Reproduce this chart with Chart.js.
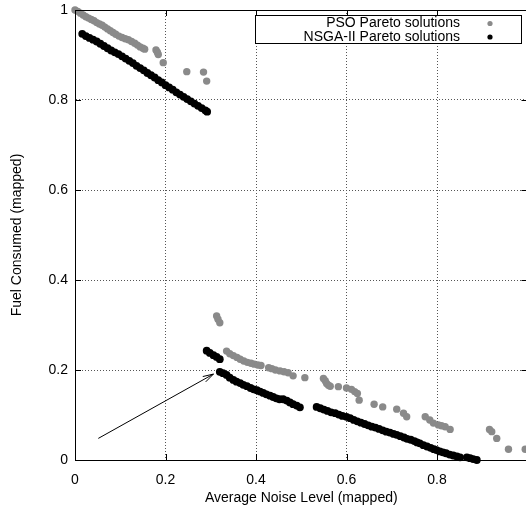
<!DOCTYPE html>
<html>
<head>
<meta charset="utf-8">
<script src="https://cdn.jsdelivr.net/npm/chart.js@4"></script>
<style>
html, body { margin: 0; padding: 0; overflow: hidden; background: #fff; }
#wrap { width: 534px; height: 509px; }
</style>
</head>
<body>
<div id="wrap"><canvas id="paretoChart" width="534" height="509"></canvas></div>
<script>
// PSO Pareto front (grey dots)
const psoNoise = [0.000, 0.006, 0.012, 0.018, 0.024, 0.030, 0.036, 0.042, 0.048, 0.054, 0.060, 0.066, 0.072, 0.078, 0.084, 0.090,
    0.097, 0.104, 0.111, 0.118, 0.125, 0.132, 0.138, 0.144, 0.150, 0.154,
    0.179, 0.182, 0.184, 0.195, 0.247, 0.284, 0.291,
    0.313, 0.316, 0.320,
    0.335, 0.342, 0.350, 0.358, 0.365, 0.373, 0.381, 0.389, 0.396, 0.404, 0.411,
    0.428, 0.435, 0.443, 0.453, 0.462, 0.471, 0.482, 0.508,
    0.549, 0.553, 0.556, 0.560, 0.564, 0.582, 0.600, 0.611, 0.618, 0.624, 0.628, 0.661, 0.680, 0.711,
    0.726, 0.733, 0.774, 0.784, 0.792, 0.803, 0.810, 0.818, 0.829, 0.916, 0.921, 0.932, 0.958, 0.995];
const psoFuel = [1.000, 0.997, 0.993, 0.989, 0.985, 0.982, 0.979, 0.976, 0.972, 0.969, 0.966, 0.962, 0.958, 0.954, 0.950, 0.946,
    0.942, 0.939, 0.936, 0.934, 0.930, 0.926, 0.922, 0.918, 0.915, 0.913,
    0.911, 0.906, 0.901, 0.883, 0.863, 0.862, 0.842,
    0.320, 0.313, 0.305,
    0.242, 0.236, 0.232, 0.228, 0.224, 0.220, 0.217, 0.215, 0.213, 0.211, 0.210,
    0.205, 0.203, 0.200, 0.198, 0.196, 0.194, 0.187, 0.183,
    0.181, 0.176, 0.170, 0.166, 0.164, 0.163, 0.160, 0.157, 0.152, 0.148, 0.133, 0.124, 0.118, 0.113,
    0.104, 0.096, 0.096, 0.089, 0.082, 0.078, 0.076, 0.074, 0.068, 0.068, 0.063, 0.048, 0.024, 0.024];

// NSGA-II Pareto front (black dots)
const nsgaNoise = [0.016, 0.024, 0.032, 0.040, 0.048, 0.056, 0.064, 0.072, 0.080, 0.088, 0.096, 0.104, 0.112, 0.120, 0.128, 0.136,
    0.144, 0.152, 0.160, 0.168, 0.176, 0.184, 0.192, 0.200, 0.208, 0.216, 0.224, 0.232, 0.240, 0.248, 0.256, 0.264,
    0.272, 0.280, 0.288, 0.292,
    0.291, 0.298, 0.306, 0.313, 0.320,
    0.320, 0.327, 0.335, 0.342, 0.350, 0.357, 0.365, 0.372, 0.380, 0.388, 0.395, 0.402, 0.409, 0.416, 0.423, 0.431,
    0.438, 0.445, 0.452, 0.460, 0.468, 0.475, 0.482, 0.490, 0.497,
    0.534, 0.542, 0.550, 0.558, 0.566, 0.575, 0.583, 0.591, 0.600, 0.608, 0.616, 0.624, 0.632, 0.640, 0.648, 0.656,
    0.664, 0.672, 0.680, 0.688, 0.696, 0.704, 0.711, 0.719, 0.727, 0.734, 0.742, 0.750, 0.756, 0.762, 0.770, 0.778,
    0.786, 0.793, 0.799, 0.806, 0.813, 0.820, 0.828, 0.836, 0.844, 0.851,
    0.866, 0.873, 0.880, 0.888];
const nsgaFuel = [0.947, 0.942, 0.938, 0.934, 0.930, 0.925, 0.920, 0.915, 0.910, 0.906, 0.902, 0.897, 0.892, 0.887, 0.882, 0.876,
    0.871, 0.866, 0.860, 0.855, 0.850, 0.844, 0.839, 0.833, 0.828, 0.823, 0.817, 0.812, 0.807, 0.802, 0.797, 0.792,
    0.787, 0.782, 0.777, 0.774,
    0.243, 0.238, 0.233, 0.229, 0.224,
    0.196, 0.193, 0.189, 0.183, 0.178, 0.174, 0.171, 0.167, 0.164, 0.160, 0.157, 0.155, 0.152, 0.149, 0.146, 0.143,
    0.140, 0.137, 0.135, 0.135, 0.132, 0.128, 0.124, 0.121, 0.117,
    0.118, 0.115, 0.112, 0.109, 0.106, 0.104, 0.101, 0.098, 0.096, 0.093, 0.089, 0.086, 0.083, 0.080, 0.077, 0.074,
    0.072, 0.069, 0.066, 0.063, 0.061, 0.058, 0.056, 0.053, 0.050, 0.047, 0.045, 0.042, 0.039, 0.037, 0.033, 0.030,
    0.027, 0.024, 0.022, 0.019, 0.017, 0.015, 0.012, 0.010, 0.008, 0.006,
    0.006, 0.004, 0.002, 0.000];

const tickValues = [0, 0.2, 0.4, 0.6, 0.8, 1];
const seriesLabels = ['PSO Pareto solutions', 'NSGA-II Pareto solutions'];
const seriesColors = ['#8a8a8a', '#000000'];
const axisTitles = ['Average Noise Level (mapped)', 'Fuel Consumed (mapped)'];
// annotation arrow, in data units (tail, head)
const arrowFrom = [0.0515, 0.048];
const arrowTo = [0.306, 0.191];

document.addEventListener('DOMContentLoaded', () => {
    const font = { family: '"Liberation Sans", Arial, Helvetica, sans-serif', size: 14 };
    const toPoints = (xs, ys) => xs.map((x, i) => ({ x: x, y: ys[i] }));

    // gnuplot look: closed frame, inward ticks, boxed key, arrow
    const gnuplotExtras = {
        id: 'gnuplotExtras',
        afterDraw(chart) {
            const c = chart.ctx;
            const { left, right, top, bottom } = chart.chartArea;
            const sx = chart.scales.x, sy = chart.scales.y;
            c.save();
            c.strokeStyle = '#000';
            c.lineWidth = 1;
            c.setLineDash([]);

            c.beginPath();
            c.moveTo(left, Math.round(top) + 0.5);
            c.lineTo(right, Math.round(top) + 0.5);
            c.moveTo(Math.round(right) + 0.5, top);
            c.lineTo(Math.round(right) + 0.5, bottom);
            tickValues.forEach(v => {
                const px = Math.round(sx.getPixelForValue(v)) + 0.5;
                c.moveTo(px, bottom); c.lineTo(px, bottom - 6);
                c.moveTo(px, top); c.lineTo(px, top + 6);
                const py = Math.round(sy.getPixelForValue(v)) + 0.5;
                c.moveTo(left, py); c.lineTo(left + 6, py);
                c.moveTo(right, py); c.lineTo(right - 6, py);
            });
            c.stroke();

            // arrow
            const x0 = sx.getPixelForValue(arrowFrom[0]), y0 = sy.getPixelForValue(arrowFrom[1]);
            const x1 = sx.getPixelForValue(arrowTo[0]), y1 = sy.getPixelForValue(arrowTo[1]);
            const ang = Math.atan2(y1 - y0, x1 - x0);
            const head = 11, spread = 16 * Math.PI / 180;
            c.beginPath();
            c.moveTo(x0, y0); c.lineTo(x1, y1);
            c.moveTo(x1 - head * Math.cos(ang - spread), y1 - head * Math.sin(ang - spread));
            c.lineTo(x1, y1);
            c.lineTo(x1 - head * Math.cos(ang + spread), y1 - head * Math.sin(ang + spread));
            c.stroke();

            // key box
            const boxL = sx.getPixelForValue(0.398), boxR = right - 6.5;
            const boxT = top + 5, boxB = top + 33;
            c.fillStyle = '#fff';
            c.fillRect(boxL, boxT, boxR - boxL, boxB - boxT);
            c.strokeRect(Math.round(boxL) + 0.5, Math.round(boxT) + 0.5, Math.round(boxR - boxL), Math.round(boxB - boxT));
            c.font = font.size + 'px ' + font.family;
            c.textAlign = 'right';
            c.textBaseline = 'middle';
            seriesLabels.forEach((label, i) => {
                const ty = boxT + 8.5 + i * 13.5;
                c.fillStyle = '#000';
                c.fillText(label, boxR - 61, ty);
                c.fillStyle = seriesColors[i];
                c.beginPath();
                c.arc(boxR - 31, ty, 2.6, 0, Math.PI * 2);
                c.fill();
            });
            c.restore();
        }
    };

    const ctx = document.getElementById('paretoChart').getContext('2d');
    const paretoChart = new Chart(ctx, {
        type: 'scatter',
        data: {
            datasets: [{
                label: seriesLabels[0],
                data: toPoints(psoNoise, psoFuel),
                backgroundColor: seriesColors[0],
                borderWidth: 0,
                pointRadius: 3.7,
                clip: false
            }, {
                label: seriesLabels[1],
                data: toPoints(nsgaNoise, nsgaFuel),
                backgroundColor: seriesColors[1],
                borderWidth: 0,
                pointRadius: 3.9,
                clip: false
            }]
        },
        options: {
            responsive: false,
            animation: false,
            devicePixelRatio: 1,
            layout: { padding: { top: 10, right: 6.5, left: 0, bottom: 0 } },
            plugins: {
                legend: { display: false },
                tooltip: { enabled: false }
            },
            scales: {
                x: {
                    type: 'linear',
                    min: 0,
                    max: 1,
                    afterBuildTicks: scale => { scale.ticks = tickValues.map(v => ({ value: v })); },
                    afterFit: scale => {
                        scale.height = 49;
                        scale.paddingLeft = 0;
                        scale.paddingRight = 0;
                    },
                    ticks: {
                        color: '#000',
                        font: font,
                        padding: 12,
                        maxRotation: 0,
                        callback: v => (v === 1 ? '' : String(v))
                    },
                    grid: { color: '#555', lineWidth: 1, drawTicks: false },
                    border: { display: true, color: '#000', width: 1, dash: [1, 2] },
                    title: { display: true, text: axisTitles[0], color: '#000', font: font, padding: { top: 0, bottom: 2.6 } }
                },
                y: {
                    type: 'linear',
                    min: 0,
                    max: 1,
                    afterBuildTicks: scale => { scale.ticks = tickValues.map(v => ({ value: v })); },
                    afterFit: scale => {
                        scale.width = 75;
                        scale.paddingTop = 0;
                        scale.paddingBottom = 0;
                    },
                    ticks: {
                        color: '#000',
                        font: font,
                        padding: 7,
                        callback: v => String(v)
                    },
                    grid: { color: '#555', lineWidth: 1, drawTicks: false },
                    border: { display: true, color: '#000', width: 1, dash: [1, 2] },
                    title: { display: true, text: axisTitles[1], color: '#000', font: font, padding: { top: 9.1, bottom: 0 } }
                }
            }
        },
        plugins: [gnuplotExtras]
    });
});
</script>
</body>
</html>
